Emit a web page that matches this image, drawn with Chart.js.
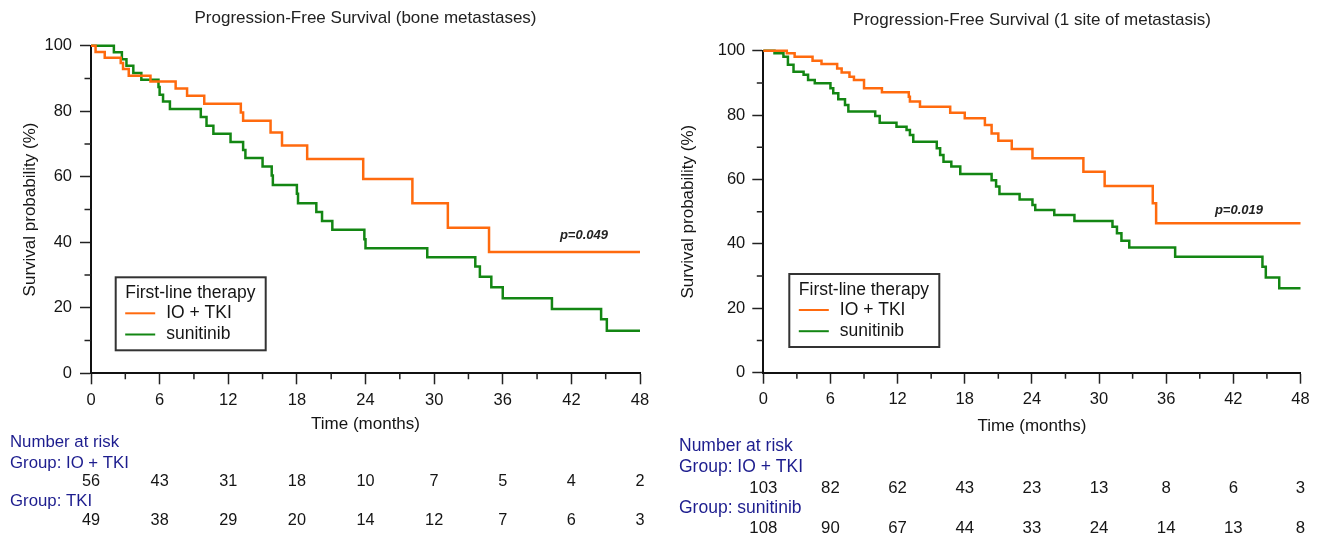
<!DOCTYPE html>
<html>
<head>
<meta charset="utf-8">
<script src="https://cdn.jsdelivr.net/npm/chart.js@4.4.1/dist/chart.umd.min.js"></script>
<style>
  html, body { margin: 0; padding: 0; background: #fff; }
  body { width: 1322px; height: 543px; position: relative; overflow: hidden; }
  .panel { position: absolute; top: 0; height: 543px; }
  #bone { left: 0; width: 660px; }
  #oneSite { left: 661px; width: 661px; }
</style>
</head>
<body>
<div class="panel" id="bone"><canvas id="boneChart"></canvas></div>
<div class="panel" id="oneSite"><canvas id="oneSiteChart"></canvas></div>
<script>
// months shown under the x axis, also where the number-at-risk counts sit
const riskMonths = [0, 6, 12, 18, 24, 30, 36, 42, 48];

// bone metastases
const boneIoTime = [0, 0.4, 1.2, 2.6, 2.8, 3.3, 5.2, 7.4, 8.4, 9.9, 13.1, 13.3, 15.7, 16.7, 18.9, 23.8, 28.1, 31.2, 34.8, 48];
const boneIoSurv = [100, 98.1, 96.3, 94.7, 92.9, 90.8, 89.1, 86.9, 84.7, 82.3, 79.6, 77.1, 73.5, 69.5, 65.4, 59.3, 51.9, 44.4, 37.0, 37.0];
const boneSunTime = [0, 2.0, 2.7, 3.1, 3.7, 4.4, 5.9, 6.0, 6.3, 6.9, 9.6, 10.1, 10.7, 12.2, 13.3, 13.5, 15.0, 15.8, 15.9, 18.0, 18.1, 19.7, 20.2, 21.1, 23.9, 24.0, 29.4, 33.6, 34.0, 35.0, 36.0, 40.3, 44.6, 45.1, 48];
const boneSunSurv = [100, 98.0, 95.9, 93.9, 91.7, 89.6, 87.4, 85.0, 83.0, 80.7, 78.2, 75.6, 73.1, 70.6, 68.2, 65.7, 63.1, 60.4, 57.5, 54.8, 51.9, 49.2, 46.5, 43.8, 40.9, 38.2, 35.4, 32.6, 29.5, 26.3, 22.9, 19.6, 16.5, 13.0, 13.0];
const boneRiskIo = [56, 43, 31, 18, 10, 7, 5, 4, 2];
const boneRiskTki = [49, 38, 29, 20, 14, 12, 7, 6, 3];

// 1 site of metastasis
const oneIoTime = [0, 2.1, 2.8, 4.4, 5.2, 6.6, 7.0, 7.7, 8.1, 9.0, 10.6, 13.0, 13.1, 14.0, 16.7, 18.0, 19.8, 20.4, 21.0, 22.2, 24.05, 28.6, 30.5, 34.8, 35.1, 48];
const oneIoSurv = [100, 99.2, 98.1, 96.9, 95.9, 94.5, 93.2, 91.9, 90.9, 88.3, 87.1, 85.7, 84.2, 82.6, 80.7, 79.0, 76.9, 74.3, 72.0, 69.5, 66.6, 62.4, 58.0, 52.6, 46.4, 46.4];
const oneSunTime = [0, 1.0, 1.8, 2.2, 2.7, 3.6, 4.0, 4.6, 6.0, 6.25, 6.7, 7.3, 7.6, 10.0, 10.4, 11.9, 12.8, 13.1, 13.4, 15.5, 15.8, 16.1, 16.8, 17.6, 20.4, 20.8, 21.1, 22.9, 24.05, 24.3, 26.0, 27.8, 31.2, 31.6, 32.0, 32.7, 36.8, 44.6, 44.9, 46.1, 48];
const oneSunSurv = [100, 99.2, 98.1, 95.6, 93.5, 92.5, 90.9, 89.9, 88.3, 86.8, 84.9, 83.1, 81.1, 79.7, 77.6, 76.4, 75.4, 73.8, 71.7, 69.7, 67.6, 65.5, 64.0, 61.7, 59.8, 57.8, 55.5, 53.8, 52.1, 50.5, 49.0, 47.1, 45.3, 43.3, 41.0, 38.9, 36.0, 32.9, 29.6, 26.2, 26.2];
const oneRiskIo = [103, 82, 62, 43, 23, 13, 8, 6, 3];
const oneRiskSun = [108, 90, 67, 44, 33, 24, 14, 13, 8];

const FONT = "'Liberation Sans', Arial, sans-serif";
const ORANGE = '#ff6a0e';
const GREEN = '#138613';
const NAVY = '#1d1d8e';
const INK = '#151515';

function toPoints(times, surv) {
  return times.map((t, i) => ({ x: t, y: surv[i] }));
}

// minor ticks, boxed legend, p-value and number-at-risk table
const kmExtras = {
  id: 'kmExtras',
  afterDraw(chart, args, opts) {
    const { ctx, chartArea: area, scales: { x, y } } = chart;
    ctx.save();

    ctx.strokeStyle = '#222';
    ctx.lineWidth = 1.5;
    ctx.beginPath();
    x.ticks.forEach(t => {
      if (t.value % 6 !== 0) {
        const px = x.getPixelForValue(t.value);
        ctx.moveTo(px, area.bottom);
        ctx.lineTo(px, area.bottom + 6);
      }
    });
    y.ticks.forEach(t => {
      if (t.value % 20 !== 0) {
        const py = y.getPixelForValue(t.value);
        ctx.moveTo(area.left, py);
        ctx.lineTo(area.left - 6.5, py);
      }
    });
    ctx.stroke();

    // legend
    const lg = opts.legend;
    const bx = area.left + lg.left;
    const by = area.bottom - lg.above;
    ctx.lineWidth = 2;
    ctx.strokeStyle = '#333';
    ctx.strokeRect(bx, by, lg.width, lg.height);
    ctx.font = lg.size + 'px ' + FONT;
    ctx.fillStyle = INK;
    ctx.textAlign = 'left';
    ctx.textBaseline = 'middle';
    ctx.fillText(lg.title, bx + 9.5, by + 16);
    chart.data.datasets.forEach((ds, i) => {
      const ly = by + 36 + i * 21.2;
      ctx.strokeStyle = ds.borderColor;
      ctx.lineWidth = 2;
      ctx.beginPath();
      ctx.moveTo(bx + 9.5, ly);
      ctx.lineTo(bx + 39.5, ly);
      ctx.stroke();
      ctx.fillText(ds.label, bx + 50.5, ly);
    });

    // p-value
    ctx.font = 'italic bold 13px ' + FONT;
    ctx.fillStyle = '#222';
    ctx.textAlign = 'center';
    ctx.fillText(opts.pValue.text, x.getPixelForValue(opts.pValue.at[0]), y.getPixelForValue(opts.pValue.at[1]));

    // number at risk
    const risk = opts.risk;
    risk.rows.forEach(row => {
      const ry = area.bottom + row.dy;
      if (row.label) {
        ctx.font = risk.labelSize + 'px ' + FONT;
        ctx.fillStyle = NAVY;
        ctx.textAlign = 'left';
        ctx.fillText(row.label, risk.labelX, ry);
      } else {
        ctx.font = risk.countSize + 'px ' + FONT;
        ctx.fillStyle = INK;
        ctx.textAlign = 'center';
        row.counts.forEach((n, i) => {
          ctx.fillText(String(n), x.getPixelForValue(riskMonths[i]), ry);
        });
      }
    });

    ctx.restore();
  }
};

function makeKmChart(canvasId, cfg) {
  const g = cfg.geom;
  return new Chart(document.getElementById(canvasId), {
    type: 'line',
    data: {
      datasets: [{
        label: 'IO + TKI',
        data: toPoints(cfg.ioTime, cfg.ioSurv),
        borderColor: ORANGE,
        borderWidth: 2.5,
        stepped: true,
        pointRadius: 0,
        fill: false,
        clip: 6
      }, {
        label: 'sunitinib',
        data: toPoints(cfg.sunTime, cfg.sunSurv),
        borderColor: GREEN,
        borderWidth: 2.5,
        stepped: true,
        pointRadius: 0,
        fill: false,
        clip: 6
      }]
    },
    options: {
      responsive: true,
      maintainAspectRatio: false,
      animation: false,
      layout: { padding: { left: 0, right: g.padRight, top: 0, bottom: 0 } },
      plugins: {
        legend: { display: false },
        tooltip: { enabled: false },
        title: {
          display: true,
          fullSize: false,
          text: cfg.title,
          color: '#222',
          font: { family: FONT, size: 17, weight: 'normal' },
          padding: { top: g.titleTop, bottom: g.titleBottom }
        },
        kmExtras: {
          legend: { title: 'First-line therapy', size: 17.5, left: g.legendLeft, above: g.legendAbove, width: 150, height: 73 },
          pValue: cfg.pValue,
          risk: cfg.risk
        }
      },
      scales: {
        x: {
          type: 'linear',
          min: 0,
          max: 48,
          afterFit: s => { s.height = g.xHeight; },
          ticks: {
            stepSize: 3,
            autoSkip: false,
            maxRotation: 0,
            padding: 5.8,
            color: INK,
            font: { family: FONT, size: 16.5 },
            callback: v => (v % 6 === 0 ? v : '')
          },
          grid: {
            drawOnChartArea: false,
            tickLength: 11,
            tickWidth: 1.5,
            tickColor: c => (c.tick && c.tick.value % 6 === 0 ? '#222' : 'rgba(0,0,0,0)')
          },
          border: { color: '#111', width: 2 },
          title: {
            display: true,
            text: 'Time (months)',
            color: INK,
            font: { family: FONT, size: 17 },
            padding: { top: 0, bottom: g.xTitleBottom }
          }
        },
        y: {
          min: 0,
          max: 100,
          afterFit: s => { s.width = g.yWidth; },
          ticks: {
            stepSize: 10,
            autoSkip: false,
            padding: g.yTickPad,
            color: INK,
            font: { family: FONT, size: 16.5 },
            callback: v => (v % 20 === 0 ? v : '')
          },
          grid: {
            drawOnChartArea: false,
            tickLength: 11,
            tickWidth: 1.5,
            tickColor: c => (c.tick && c.tick.value % 20 === 0 ? '#222' : 'rgba(0,0,0,0)')
          },
          border: { color: '#111', width: 2 },
          title: {
            display: true,
            text: 'Survival probability (%)',
            color: INK,
            font: { family: FONT, size: 17 },
            padding: { top: g.yTitleTop, bottom: 0 }
          }
        }
      }
    },
    plugins: [kmExtras]
  });
}

makeKmChart('boneChart', {
  title: 'Progression-Free Survival (bone metastases)',
  ioTime: boneIoTime, ioSurv: boneIoSurv,
  sunTime: boneSunTime, sunSurv: boneSunSurv,
  pValue: { text: 'p=0.049', at: [43.1, 42] },
  risk: {
    labelX: 10,
    labelSize: 16.8,
    countSize: 16.3,
    rows: [
      { label: 'Number at risk', dy: 69.4 },
      { label: 'Group: IO + TKI', dy: 90 },
      { counts: boneRiskIo, dy: 108.4 },
      { label: 'Group: TKI', dy: 128.4 },
      { counts: boneRiskTki, dy: 147.7 }
    ]
  },
  geom: {
    padRight: 20, titleTop: 7.8, titleBottom: 17.5,
    xHeight: 169.7, xTitleBottom: 108.8,
    yWidth: 91, yTickPad: 8, yTitleTop: 19.8,
    legendLeft: 24.7, legendAbove: 96
  }
});

makeKmChart('oneSiteChart', {
  title: 'Progression-Free Survival (1 site of metastasis)',
  ioTime: oneIoTime, ioSurv: oneIoSurv,
  sunTime: oneSunTime, sunSurv: oneSunSurv,
  pValue: { text: 'p=0.019', at: [42.5, 50.5] },
  risk: {
    labelX: 18,
    labelSize: 17.5,
    countSize: 16.8,
    rows: [
      { label: 'Number at risk', dy: 73.3 },
      { label: 'Group: IO + TKI', dy: 94.6 },
      { counts: oneRiskIo, dy: 115.6 },
      { label: 'Group: sunitinib', dy: 135.6 },
      { counts: oneRiskSun, dy: 155.6 }
    ]
  },
  geom: {
    padRight: 21.5, titleTop: 9.8, titleBottom: 20.5,
    xHeight: 170.3, xTitleBottom: 106.3,
    yWidth: 102.3, yTickPad: 7, yTitleTop: 16.8,
    legendLeft: 26, legendAbove: 98.7
  }
});
</script>
</body>
</html>
